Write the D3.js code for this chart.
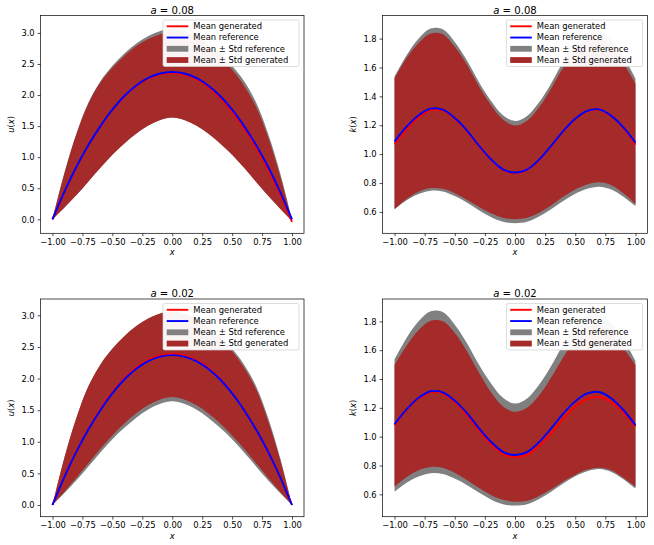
<!DOCTYPE html>
<html>
<head>
<meta charset="utf-8">
<script src="https://cdn.jsdelivr.net/npm/d3@7"></script>
<style>
  body { margin: 0; background: #fff; }
  svg { display: block; font-family: "DejaVu Sans", sans-serif; }
</style>
</head>
<body>
<div id="chart"></div>
<script>
// sample positions along x
const xs = [-1, -0.9, -0.8, -0.7, -0.6, -0.5, -0.4, -0.3, -0.2, -0.1, 0, 0.1, 0.2, 0.3, 0.4, 0.5, 0.6, 0.7, 0.8, 0.9, 1];

// u(x) reference (same in both rows)
const uRefMean  = [0, 0.445, 0.845, 1.195, 1.50, 1.765, 1.985, 2.155, 2.275, 2.346, 2.37, 2.346, 2.275, 2.155, 1.985, 1.765, 1.50, 1.195, 0.845, 0.445, 0];
const uRefUpper = [0, 0.75, 1.38, 1.88, 2.22, 2.47, 2.67, 2.83, 2.95, 3.03, 3.07, 3.03, 2.95, 2.83, 2.67, 2.47, 2.22, 1.88, 1.38, 0.75, 0];
const uRefLower = [0, 0.19, 0.39, 0.61, 0.83, 1.04, 1.22, 1.38, 1.51, 1.60, 1.64, 1.60, 1.51, 1.38, 1.22, 1.04, 0.83, 0.61, 0.39, 0.19, 0];

// u(x) generated, a = 0.08
const uGenMean08  = [0, 0.44, 0.84, 1.19, 1.495, 1.76, 1.975, 2.145, 2.262, 2.332, 2.355, 2.33, 2.255, 2.13, 1.955, 1.73, 1.46, 1.15, 0.80, 0.40, -0.04];
const uGenUpper08 = [0, 0.74, 1.37, 1.86, 2.20, 2.44, 2.63, 2.79, 2.90, 2.98, 3.02, 3.00, 2.92, 2.79, 2.62, 2.41, 2.15, 1.81, 1.32, 0.70, -0.03];
const uGenLower08 = [0, 0.19, 0.39, 0.61, 0.83, 1.04, 1.22, 1.38, 1.51, 1.60, 1.64, 1.60, 1.51, 1.38, 1.22, 1.04, 0.83, 0.60, 0.38, 0.17, -0.03];

// u(x) generated, a = 0.02
const uGenMean02  = [0, 0.445, 0.848, 1.20, 1.51, 1.78, 2.003, 2.175, 2.297, 2.367, 2.39, 2.367, 2.294, 2.17, 1.995, 1.77, 1.50, 1.19, 0.84, 0.443, 0];
const uGenUpper02 = [0, 0.75, 1.38, 1.88, 2.22, 2.47, 2.67, 2.83, 2.95, 3.03, 3.06, 3.02, 2.93, 2.80, 2.63, 2.43, 2.17, 1.83, 1.33, 0.72, 0];
const uGenLower02 = [0, 0.21, 0.43, 0.66, 0.89, 1.10, 1.29, 1.45, 1.58, 1.67, 1.71, 1.67, 1.58, 1.45, 1.29, 1.10, 0.89, 0.66, 0.43, 0.21, 0];

// k(x) reference (same in both rows)
const kRefMean  = [1.087, 1.19, 1.27, 1.315, 1.308, 1.25, 1.165, 1.06, 0.965, 0.895, 0.873, 0.893, 0.962, 1.057, 1.16, 1.245, 1.30, 1.31, 1.265, 1.185, 1.08];
const kRefUpper = [1.536, 1.685, 1.80, 1.87, 1.865, 1.777, 1.65, 1.50, 1.37, 1.27, 1.23, 1.265, 1.36, 1.49, 1.64, 1.765, 1.845, 1.855, 1.79, 1.675, 1.525];
const kRefLower = [0.618, 0.68, 0.724, 0.747, 0.742, 0.71, 0.665, 0.612, 0.565, 0.532, 0.522, 0.532, 0.568, 0.618, 0.675, 0.725, 0.76, 0.775, 0.755, 0.705, 0.64];

// k(x) generated, a = 0.08
const kGenMean08  = [1.068, 1.172, 1.255, 1.305, 1.30, 1.245, 1.16, 1.055, 0.96, 0.89, 0.87, 0.89, 0.96, 1.055, 1.158, 1.243, 1.298, 1.308, 1.262, 1.18, 1.065];
const kGenUpper08 = [1.524, 1.665, 1.77, 1.835, 1.83, 1.743, 1.62, 1.47, 1.34, 1.24, 1.198, 1.232, 1.325, 1.455, 1.60, 1.72, 1.80, 1.81, 1.745, 1.63, 1.49];
const kGenLower08 = [0.62, 0.69, 0.74, 0.765, 0.76, 0.73, 0.685, 0.635, 0.59, 0.56, 0.55, 0.56, 0.595, 0.645, 0.705, 0.755, 0.79, 0.805, 0.785, 0.73, 0.655];

// k(x) generated, a = 0.02
const kGenMean02  = [1.08, 1.185, 1.265, 1.308, 1.30, 1.24, 1.152, 1.045, 0.95, 0.88, 0.86, 0.873, 0.935, 1.025, 1.125, 1.21, 1.262, 1.275, 1.24, 1.168, 1.07];
const kGenUpper02 = [1.497, 1.63, 1.74, 1.805, 1.80, 1.72, 1.595, 1.445, 1.31, 1.21, 1.173, 1.20, 1.285, 1.41, 1.55, 1.67, 1.755, 1.775, 1.72, 1.615, 1.497];
const kGenLower02 = [0.653, 0.72, 0.768, 0.79, 0.785, 0.75, 0.70, 0.645, 0.595, 0.562, 0.549, 0.555, 0.588, 0.635, 0.69, 0.735, 0.772, 0.785, 0.768, 0.715, 0.653];

const xTicks = [-1, -0.75, -0.5, -0.25, 0, 0.25, 0.5, 0.75, 1];
const uTicks = [0, 0.5, 1, 1.5, 2, 2.5, 3];
const kTicks = [0.6, 0.8, 1, 1.2, 1.4, 1.6, 1.8];
const titles = ['0.08', '0.08', '0.02', '0.02'];
const legendLabels = ['Mean generated', 'Mean reference', 'Mean \u00b1 Std reference', 'Mean \u00b1 Std generated'];

const C = { gen: '#ff0000', ref: '#0000ff', refBand: '#808080', genBand: '#a52a2a' };
const W = 654, H = 545;
const FS = 8.4;
const LW = 1.9;
const cols = [[40.5, 304], [382.5, 647.5]];
const rows = [[15.5, 233.3], [299, 516.7]];

const panels = [
  { col: 0, row: 0, title: titles[0], ylab: 'u', ticks: uTicks, yDomain: [-0.225, 3.28],
    mean: uGenMean08, upper: uGenUpper08, lower: uGenLower08, rMean: uRefMean, rUpper: uRefUpper, rLower: uRefLower },
  { col: 1, row: 0, title: titles[1], ylab: 'k', ticks: kTicks, yDomain: [0.452, 1.96],
    mean: kGenMean08, upper: kGenUpper08, lower: kGenLower08, rMean: kRefMean, rUpper: kRefUpper, rLower: kRefLower },
  { col: 0, row: 1, title: titles[2], ylab: 'u', ticks: uTicks, yDomain: [-0.185, 3.258],
    mean: uGenMean02, upper: uGenUpper02, lower: uGenLower02, rMean: uRefMean, rUpper: uRefUpper, rLower: uRefLower },
  { col: 1, row: 1, title: titles[3], ylab: 'k', ticks: kTicks, yDomain: [0.445, 1.955],
    mean: kGenMean02, upper: kGenUpper02, lower: kGenLower02, rMean: kRefMean, rUpper: kRefUpper, rLower: kRefLower }
];

const svg = d3.select('#chart').append('svg').attr('width', W).attr('height', H);
svg.append('rect').attr('width', W).attr('height', H).attr('fill', '#fff');

const minus = s => s.replace('-', '\u2212');

panels.forEach(drawPanel);

function drawPanel(p) {
  const [x0, x1] = cols[p.col];
  const [y0, y1] = rows[p.row];
  const x = d3.scaleLinear().domain([-1.1, 1.1]).range([x0, x1]);
  const y = d3.scaleLinear().domain(p.yDomain).range([y1, y0]);
  const g = svg.append('g');

  const clipId = `clip${p.col}${p.row}`;
  g.append('clipPath').attr('id', clipId)
    .append('rect').attr('x', x0).attr('y', y0).attr('width', x1 - x0).attr('height', y1 - y0);
  const plot = g.append('g').attr('clip-path', `url(#${clipId})`);

  const band = (lo, hi) => d3.area()
    .x((d, i) => x(xs[i]))
    .y0((d, i) => y(lo[i]))
    .y1((d, i) => y(hi[i]))
    .curve(d3.curveCatmullRom)(xs);
  const line = vals => d3.line()
    .x((d, i) => x(xs[i]))
    .y((d, i) => y(vals[i]))
    .curve(d3.curveCatmullRom)(xs);

  plot.append('path').attr('d', band(p.rLower, p.rUpper)).attr('fill', C.refBand);
  plot.append('path').attr('d', band(p.lower, p.upper)).attr('fill', C.genBand);
  plot.append('path').attr('d', line(p.mean)).attr('fill', 'none').attr('stroke', C.gen).attr('stroke-width', LW);
  plot.append('path').attr('d', line(p.rMean)).attr('fill', 'none').attr('stroke', C.ref).attr('stroke-width', LW);

  // Axes
  const xAxis = g.append('g').attr('transform', `translate(0,${y1})`)
    .call(d3.axisBottom(x).tickValues(xTicks).tickSize(2.9).tickPadding(2.9)
      .tickFormat(d => minus(d3.format('.2f')(d))));
  const yAxis = g.append('g').attr('transform', `translate(${x0},0)`)
    .call(d3.axisLeft(y).tickValues(p.ticks).tickSize(2.9).tickPadding(2.9)
      .tickFormat(d => minus(d3.format('.1f')(d))));
  [xAxis, yAxis].forEach(a => {
    a.select('.domain').remove();
    a.attr('font-family', null).attr('font-size', FS);
    a.selectAll('line').attr('stroke', '#000').attr('stroke-width', 0.7);
    a.selectAll('text').attr('fill', '#000');
  });

  g.append('rect').attr('x', x0).attr('y', y0).attr('width', x1 - x0).attr('height', y1 - y0)
    .attr('fill', 'none').attr('stroke', '#000').attr('stroke-width', 0.7);

  // Title
  const t = g.append('text').attr('x', (x0 + x1) / 2).attr('y', y0 - 2)
    .attr('text-anchor', 'middle').attr('font-size', 10.1);
  t.append('tspan').attr('font-style', 'italic').text('a');
  t.append('tspan').text(' = ' + p.title);

  // Axis labels
  g.append('text').attr('x', (x0 + x1) / 2).attr('y', y1 + 22)
    .attr('text-anchor', 'middle').attr('font-size', FS).attr('font-style', 'italic').text('x');
  const yl = g.append('text')
    .attr('transform', `translate(${x0 - 26.5},${(y0 + y1) / 2}) rotate(-90)`)
    .attr('text-anchor', 'middle').attr('font-size', FS);
  yl.append('tspan').attr('font-style', 'italic').text(p.ylab);
  yl.append('tspan').text('(');
  yl.append('tspan').attr('font-style', 'italic').text('x');
  yl.append('tspan').text(')');

  drawLegend(g, x1, y0);
}

function drawLegend(g, right, top) {
  const bw = 136, bh = 46.5;
  const lx = right - 5 - bw, ly = top + 4.5;
  const lg = g.append('g').attr('transform', `translate(${lx},${ly})`);
  lg.append('rect').attr('width', bw).attr('height', bh).attr('rx', 1.7)
    .attr('fill', '#fff').attr('fill-opacity', 0.95).attr('stroke', '#d0d0d0').attr('stroke-width', 0.7);
  const kinds = [
    { type: 'line', color: C.gen },
    { type: 'line', color: C.ref },
    { type: 'patch', color: C.refBand },
    { type: 'patch', color: C.genBand }
  ];
  kinds.forEach((k, i) => {
    const cy = 6.3 + i * 11.25;
    if (k.type === 'line') {
      lg.append('line').attr('x1', 3.7).attr('x2', 25.3).attr('y1', cy).attr('y2', cy)
        .attr('stroke', k.color).attr('stroke-width', LW);
    } else {
      lg.append('rect').attr('x', 3.7).attr('y', cy - 2.9).attr('width', 21.6).attr('height', 5.8)
        .attr('fill', k.color);
    }
    lg.append('text').attr('x', 30.3).attr('y', cy).attr('dy', '0.35em')
      .attr('font-size', FS).attr('fill', '#000').text(legendLabels[i]);
  });
}
</script>
</body>
</html>
